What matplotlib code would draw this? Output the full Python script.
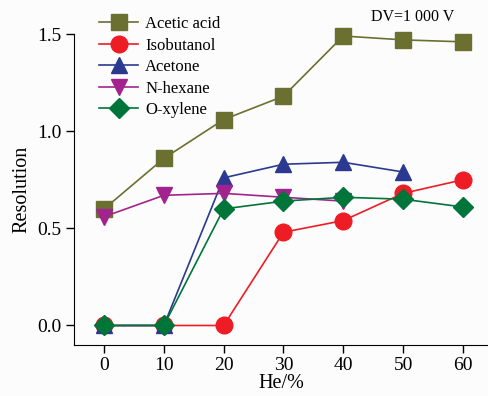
import matplotlib
matplotlib.use("Agg")
import matplotlib.pyplot as plt

# ==================== Data ====================
he = [0, 10, 20, 30, 40, 50, 60]

acetic_acid = [0.60, 0.86, 1.06, 1.18, 1.49, 1.47, 1.46]
isobutanol = [0.0, 0.0, 0.0, 0.48, 0.54, 0.68, 0.75]
acetone = [0.0, 0.0, 0.76, 0.83, 0.84, 0.79]
n_hexane = [0.56, 0.67, 0.68, 0.66, 0.64]
o_xylene = [0.0, 0.0, 0.60, 0.64, 0.66, 0.65, 0.61]

x_ticks = [0, 10, 20, 30, 40, 50, 60]
y_ticks = [0.0, 0.5, 1.0, 1.5]

# ==================== Plot ====================
plt.rcParams.update({
    "font.family": "Liberation Serif",
    "font.size": 12,
})

fig = plt.figure(figsize=(4.88, 3.96), dpi=100, facecolor="#fcfcfc")
ax = fig.add_axes([0.152, 0.129, 0.848, 0.785])
ax.set_facecolor("#fcfcfc")

series = [
    ("Acetic acid", acetic_acid, "#6b6f2f", "s", 11),
    ("Isobutanol", isobutanol, "#ee1c25", "o", 12),
    ("Acetone", acetone, "#2b3990", "^", 12),
    ("N-hexane", n_hexane, "#a3238e", "v", 12),
    ("O-xylene", o_xylene, "#00753a", "D", 10),
]

for name, vals, color, marker, ms in series:
    ax.plot(he[:len(vals)], vals, color=color, marker=marker, markersize=ms,
            linewidth=1.2, label=name, clip_on=False)

ax.set_xlim(-5, 64.2)
ax.set_ylim(-0.1, 1.5)
ax.set_xticks(x_ticks)
ax.set_yticks(y_ticks)
ax.set_yticklabels([f"{v:.1f}" for v in y_ticks])
ax.spines["top"].set_visible(False)
ax.spines["right"].set_visible(False)
ax.tick_params(direction="out", length=6, width=1, labelsize=14, pad=3)
ax.set_xlabel("He/%", fontsize=14.5, labelpad=0)
ax.set_ylabel("Resolution", fontsize=14.5, labelpad=4)

fig.text(0.76, 0.957, "DV=1 000 V", ha="left", va="center", fontsize=11.5)

ax.legend(loc="upper left", bbox_to_anchor=(0.19, 0.976), bbox_transform=fig.transFigure,
          frameon=False, fontsize=12, handlelength=2.3, handletextpad=0.45,
          labelspacing=0.33, borderaxespad=0.0)

fig.savefig("out.png", dpi=100, facecolor=fig.get_facecolor())
